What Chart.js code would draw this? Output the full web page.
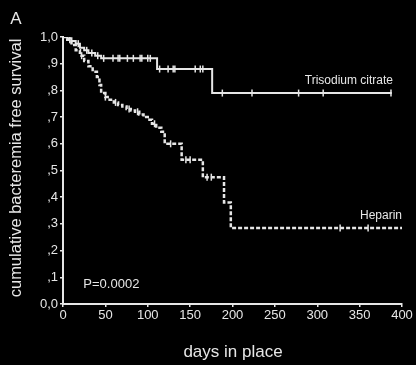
<!DOCTYPE html>
<html>
<head>
<meta charset="utf-8">
<script src="https://cdn.jsdelivr.net/npm/chart.js@4"></script>
<style>
  html, body { margin: 0; padding: 0; background: #000; }
  #wrap { width: 416px; height: 365px; }
</style>
</head>
<body>
<div id="wrap"><canvas id="km"></canvas></div>
<script>
// Kaplan-Meier steps (days, survival)
const citrateDays = [0, 5, 10, 15, 20, 25, 30, 38, 45, 111, 176, 388];
const citrateSurv = [1.0, 0.995, 0.985, 0.975, 0.96, 0.95, 0.94, 0.93, 0.92, 0.88, 0.79, 0.79];

const heparinDays = [0, 5, 10, 15, 20, 25, 30, 35, 40, 43, 45, 50, 55, 60, 65, 70, 75, 80, 85, 90, 95, 100, 105, 110, 116, 120, 140, 165, 190, 198, 400];
const heparinSurv = [1.0, 0.99, 0.97, 0.95, 0.93, 0.91, 0.89, 0.87, 0.85, 0.82, 0.79, 0.775, 0.765, 0.755, 0.745, 0.74, 0.73, 0.725, 0.72, 0.71, 0.70, 0.69, 0.675, 0.66, 0.645, 0.60, 0.54, 0.475, 0.38, 0.285, 0.285];

// censored observations (days)
const citrateCensor = [18, 28, 34, 41, 48, 59, 65, 67, 76, 83, 91, 93, 100, 103, 114, 124, 130, 132, 156, 162, 165, 188, 223, 278, 307, 387];
const heparinCensor = [8, 22, 50, 62, 78, 88, 108, 127, 145, 150, 170, 175, 327, 360];

const xTicks = [0, 50, 100, 150, 200, 250, 300, 350, 400];
const pValue = "P=0.0002";

const fg = "#e6e6e6";

function toPoints(days, surv) {
  return days.map((d, i) => ({ x: d, y: surv[i] }));
}

// survival at day t from the step data
function survAt(days, surv, t) {
  let s = surv[0];
  for (let i = 0; i < days.length; i++) {
    if (days[i] <= t) s = surv[i];
  }
  return s;
}

function censorPoints(cens, days, surv) {
  return cens.map(t => ({ x: t, y: survAt(days, surv, t) }));
}

const censorStyle = {
  type: "scatter",
  showLine: false,
  pointStyle: "line",
  rotation: 90,
  pointRadius: 3.5,
  borderWidth: 1.5,
  borderColor: fg
};

// texts that are not part of axes
const labelsPlugin = {
  id: "labels",
  afterDraw(chart) {
    const ctx = chart.ctx;
    const x = chart.scales.x;
    const y = chart.scales.y;
    ctx.save();
    ctx.fillStyle = fg;
    ctx.textBaseline = "middle";

    ctx.font = "12px 'Liberation Sans', Arial, sans-serif";
    ctx.textAlign = "right";
    ctx.fillText("Trisodium citrate", 393, y.getPixelForValue(0.835));
    ctx.fillText("Heparin", 402, y.getPixelForValue(0.33));

    ctx.textAlign = "left";
    ctx.font = "13px 'Liberation Sans', Arial, sans-serif";
    ctx.fillText(pValue, x.getPixelForValue(24), y.getPixelForValue(0.075));

    ctx.textAlign = "center";
    ctx.font = "17px 'Liberation Sans', Arial, sans-serif";
    ctx.fillText("A", 16, 19);

    ctx.fillText("days in place", 233, 352);

    ctx.translate(16, 168);
    ctx.rotate(-Math.PI / 2);
    ctx.font = "16.5px 'Liberation Sans', Arial, sans-serif";
    ctx.fillText("cumulative bacteremia free survival", 0, 0);
    ctx.restore();
  }
};

new Chart(document.getElementById("km"), {
  type: "line",
  data: {
    datasets: [
      {
        label: "Trisodium citrate",
        data: toPoints(citrateDays, citrateSurv),
        stepped: true,
        borderColor: fg,
        borderWidth: 2,
        pointRadius: 0,
        fill: false
      },
      {
        label: "Heparin",
        data: toPoints(heparinDays, heparinSurv),
        stepped: true,
        borderColor: fg,
        borderWidth: 2.5,
        borderDash: [4, 2],
        pointRadius: 0,
        fill: false
      },
      Object.assign({ label: "citrate censored", data: censorPoints(citrateCensor, citrateDays, citrateSurv) }, censorStyle),
      Object.assign({ label: "heparin censored", data: censorPoints(heparinCensor, heparinDays, heparinSurv) }, censorStyle)
    ]
  },
  options: {
    responsive: true,
    maintainAspectRatio: false,
    animation: false,
    events: [],
    layout: { padding: { left: 0, right: 14, top: 37, bottom: 0 } },
    plugins: {
      legend: { display: false },
      tooltip: { enabled: false }
    },
    scales: {
      x: {
        type: "linear",
        min: 0,
        max: 400,
        afterBuildTicks(scale) {
          scale.ticks = xTicks.map(v => ({ value: v }));
        },
        afterFit(scale) { scale.height = 61; },
        border: { display: true, color: fg, width: 2 },
        grid: { drawOnChartArea: false, drawTicks: true, tickLength: 3, color: fg, lineWidth: 1.5 },
        ticks: {
          color: fg,
          padding: 1,
          maxRotation: 0,
          font: { family: "'Liberation Sans', Arial, sans-serif", size: 13 }
        }
      },
      y: {
        min: 0,
        max: 1,
        afterFit(scale) { scale.width = 63; },
        border: { display: true, color: fg, width: 2 },
        grid: { drawOnChartArea: false, drawTicks: true, tickLength: 3, color: fg, lineWidth: 1.5 },
        ticks: {
          stepSize: 0.1,
          color: fg,
          padding: 2,
          font: { family: "'Liberation Sans', Arial, sans-serif", size: 13 },
          callback(v) {
            const n = Math.round(v * 10);
            if (n === 0) return "0,0";
            if (n === 10) return "1,0";
            return "," + n;
          }
        }
      }
    }
  },
  plugins: [labelsPlugin]
});
</script>
</body>
</html>
